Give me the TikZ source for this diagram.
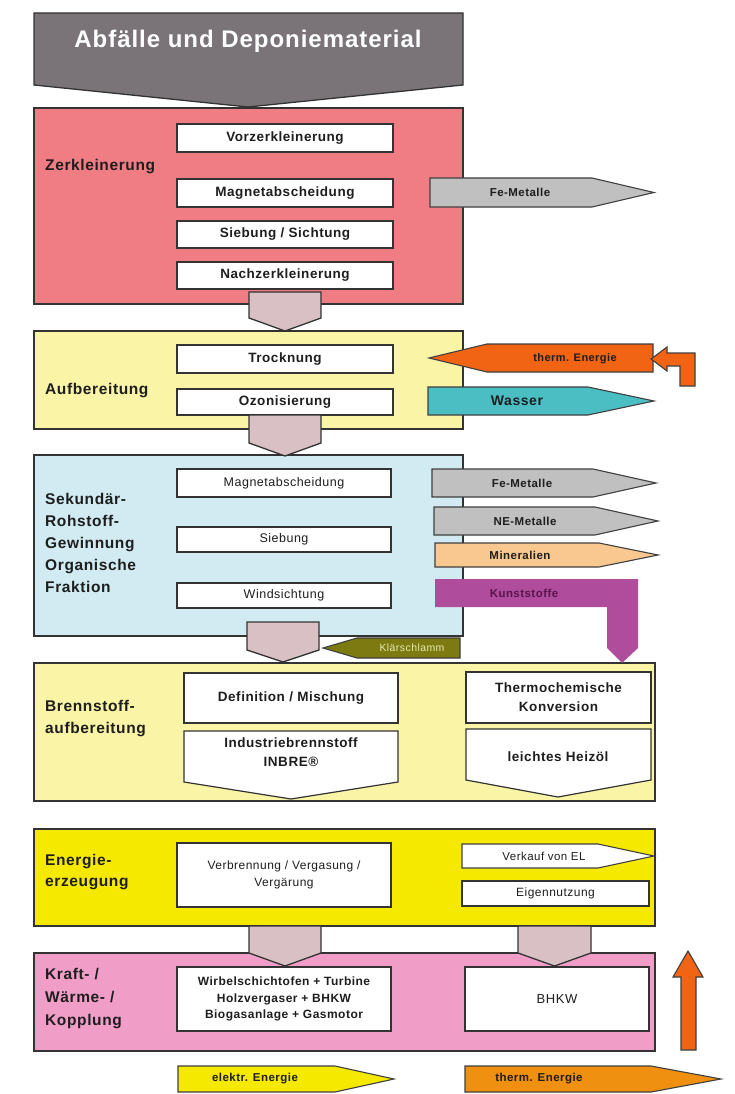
\documentclass[tikz,border=0pt]{standalone}
\usepackage{fontspec}
\setmainfont{Liberation Sans}[LetterSpace=4]
\usetikzlibrary{calc}
\definecolor{hdr}{RGB}{122,116,120}
\definecolor{redbox}{RGB}{240,124,132}
\definecolor{ylight}{RGB}{249,244,166}
\definecolor{bluebox}{RGB}{210,235,243}
\definecolor{ybright}{RGB}{245,233,0}
\definecolor{pinkbox}{RGB}{240,158,200}
\definecolor{darr}{RGB}{216,192,196}
\definecolor{garr}{RGB}{192,192,192}
\definecolor{orng}{RGB}{240,100,20}
\definecolor{teal}{RGB}{75,190,196}
\definecolor{peach}{RGB}{248,200,144}
\definecolor{purp}{RGB}{176,76,156}
\definecolor{purptext}{RGB}{90,20,80}
\definecolor{olive}{RGB}{124,122,16}
\definecolor{olivetext}{RGB}{232,232,176}
\definecolor{orng2}{RGB}{240,144,16}
\definecolor{txt}{RGB}{30,30,30}
\newcommand\fsz[2]{\fontsize{#1}{#2}\selectfont}
% box: [style]{name}{x1}{y1}{x2}{y2}{text}
\newcommand\bx[7][]{\node[wbox,#1,minimum width={(#5-#3)*1pt},minimum height={(#6-#4)*1pt}] (#2) at ({(#3+#5)/2},{(#4+#6)/2}) {#7};}
% down block arrow: {name}{x1}{x2}{ytop}{yside}{ytip}
\newcommand\dar[6]{\draw[edge,fill=darr] (#2,#4) -- (#3,#4) -- (#3,#5) -- ({(#2+#3)/2},#6) -- (#2,#5) -- cycle; \coordinate (#1) at ({(#2+#3)/2},#6);}
% right block arrow: [style]{name}{x1}{y1}{xr}{y2}{xtip}
\newcommand\rar[7][]{\draw[sedge,#1] (#3,#4) -- (#5,#4) -- (#7,{(#4+#6)/2}) -- (#5,#6) -- (#3,#6) -- cycle; \coordinate (#2) at (#7,{(#4+#6)/2});}
\begin{document}
\begin{tikzpicture}[x=1pt,y=-1pt,
  edge/.style={draw=black!80,line width=1.3pt,line join=miter},
  sedge/.style={draw=black!75,line width=1.1pt,line join=miter},
  big/.style={edge},
  wbox/.style={draw=black!80,line width=1.2pt,fill=white,inner sep=0pt,align=center,text=txt,font=\fsz{13.5}{16}\bfseries},
  lab/.style={anchor=west,inner sep=0pt,align=left,text=txt,font=\fsz{15.5}{22}\bfseries},
  atext/.style={inner sep=0pt,text=txt,font=\fsz{11.5}{13}\bfseries}]
\useasboundingbox (0,0) rectangle (734,1094);
\fill[white] (0,0) rectangle (734,1094);

% header
\draw[edge,fill=hdr] (34,13) -- (463,13) -- (463,85) -- (248,107) -- (34,85) -- cycle;
\node[inner sep=0pt,text=white,font=\fsz{24}{28}\bfseries] (head) at (248,41) {Abfälle und Deponiematerial};

% big section boxes
\draw[big,fill=redbox] (34,108) rectangle (463,304);
\draw[big,fill=ylight] (34,331) rectangle (463,429);
\draw[big,fill=bluebox] (34,455) rectangle (463,636);
\draw[big,fill=ylight] (34,663) rectangle (655,801);
\draw[big,fill=ybright] (34,829) rectangle (655,926);
\draw[big,fill=pinkbox] (34,953) rectangle (655,1051);

% section labels
\node[lab] (l1) at (45,167) {Zerkleinerung};
\node[lab] (l2) at (45,391) {Aufbereitung};
\node[lab] (l3) at (45,543) {Sekundär-\\Rohstoff-\\Gewinnung\\Organische\\Fraktion};
\node[lab] (l4) at (45,719) {Brennstoff-\\aufbereitung};
\node[lab,font=\fsz{15.5}{21}\bfseries] (l5) at (45,872) {Energie-\\erzeugung};
\node[lab,font=\fsz{15.5}{23}\bfseries] (l6) at (45,999) {Kraft- /\\Wärme- /\\Kopplung};

% Zerkleinerung boxes
\bx{vz}{177}{124}{393}{152}{Vorzerkleinerung}
\bx{ma}{177}{179}{393}{207}{Magnetabscheidung}
\bx{ss}{177}{221}{393}{248}{Siebung / Sichtung}
\bx{nz}{177}{262}{393}{289}{Nachzerkleinerung}
\rar[fill=garr]{fe1}{430}{178}{592}{207}{654}
\node[atext] (fe1t) at (520,192.5) {Fe-Metalle};

% Aufbereitung boxes
\bx{tr}{177}{345}{393}{373}{Trocknung}
\bx{oz}{177}{389}{393}{415}{Ozonisierung}
\draw[sedge,fill=orng] (653,344) -- (487,344) -- (429,358) -- (487,372) -- (653,372) -- cycle;
\coordinate (th1) at (429,358);
\node[atext,font=\fsz{11}{13}\bfseries] (th1t) at (575,359) {therm. Energie};
\draw[sedge,fill=orng] (651,359) -- (667,347) -- (667,353) -- (695,353) -- (695,386) -- (680,386) -- (680,366) -- (667,366) -- (667,371) -- cycle;
\coordinate (bent) at (651,359);
\rar[fill=teal]{wa}{428}{387}{588}{415}{654}
\node[atext,font=\fsz{14}{16}\bfseries] (wat) at (517,401) {Wasser};

% Sekundaer boxes
\bx[font=\fsz{12.5}{14}]{ma2}{177}{469}{391}{497}{Magnetabscheidung}
\bx[font=\fsz{12.5}{14}]{sb}{177}{527}{391}{552}{Siebung}
\bx[font=\fsz{12.5}{14}]{ws}{177}{583}{391}{608}{Windsichtung}
\rar[fill=garr]{fe2}{432}{469}{593}{497}{656}
\node[atext] (fe2t) at (522,483) {Fe-Metalle};
\rar[fill=garr]{ne}{434}{507}{595}{535}{658}
\node[atext] (net) at (525,521) {NE-Metalle};
\rar[fill=peach]{mi}{435}{543}{599}{567}{658}
\node[atext] (mit) at (520,555) {Mineralien};
\fill[purp] (435,579) -- (638,579) -- (638,648) -- (622,663) -- (607,648) -- (607,607) -- (435,607) -- cycle;
\coordinate (ku) at (622,663);
\node[atext,text=purptext] (kut) at (524,593) {Kunststoffe};
\draw[sedge,fill=olive] (460,638) -- (357,638) -- (323,648) -- (357,658) -- (460,658) -- cycle;
\coordinate (kl) at (323,648);
\node[inner sep=0pt,text=olivetext,font=\fsz{10.5}{12}] (klt) at (412,648) {Klärschlamm};

% Brennstoff boxes
\bx{dm}{184}{673}{398}{723}{Definition / Mischung}
\bx[font=\fsz{13.5}{19}\bfseries]{tc}{466}{672}{651}{723}{Thermochemische\\Konversion}
\draw[draw=black!80,line width=1.2pt,fill=white] (184,731) -- (398,731) -- (398,782) -- (291,799) -- (184,782) -- cycle;
\node[inner sep=0pt,align=center,text=txt,font=\fsz{13.5}{19}\bfseries] (inb) at (291,752) {Industriebrennstoff\\INBRE®};
\draw[draw=black!80,line width=1.2pt,fill=white] (466,729) -- (651,729) -- (651,780) -- (558,797) -- (466,780) -- cycle;
\node[inner sep=0pt,text=txt,font=\fsz{13.5}{15}\bfseries] (hz) at (558,757) {leichtes Heizöl};

% Energie boxes
\bx[font=\fsz{12}{17}]{vb}{177}{843}{391}{907}{Verbrennung / Vergasung /\\Vergärung}
\draw[sedge,fill=white] (462,844) -- (598,844) -- (654,856) -- (598,868) -- (462,868) -- cycle;
\coordinate (vk) at (654,856);
\node[atext,font=\fsz{11.5}{13}] (vkt) at (544,856) {Verkauf von EL};
\bx[font=\fsz{12}{14}]{ei}{462}{881}{649}{906}{Eigennutzung}

% Kraft boxes
\bx[font=\fsz{12}{16.5}\bfseries]{wb}{177}{967}{391}{1031}{Wirbelschichtofen + Turbine\\Holzvergaser + BHKW\\Biogasanlage + Gasmotor}
\bx[font=\fsz{13}{14}]{bh}{465}{967}{649}{1031}{BHKW}

% down arrows between sections
\dar{d1}{249}{321}{292}{318}{331}
\dar{d2}{249}{321}{415}{443}{456}
\dar{d3}{247}{319}{622}{650}{662}
\dar{d4}{249}{321}{926}{953}{966}
\dar{d5}{518}{591}{926}{953}{966}

% up arrow
\draw[sedge,fill=orng] (681,1050) -- (681,977) -- (673,977) -- (688,951) -- (703,977) -- (696,977) -- (696,1050) -- cycle;
\coordinate (up) at (688,951);

% bottom arrows
\rar[fill=ybright]{el}{178}{1066}{335}{1092}{394}
\node[atext] (elt) at (255,1079) {elektr. Energie};
\rar[fill=orng2]{th2}{465}{1066}{651}{1092}{721}
\node[atext] (th2t) at (539,1079) {therm. Energie};
\end{tikzpicture}
\end{document}
